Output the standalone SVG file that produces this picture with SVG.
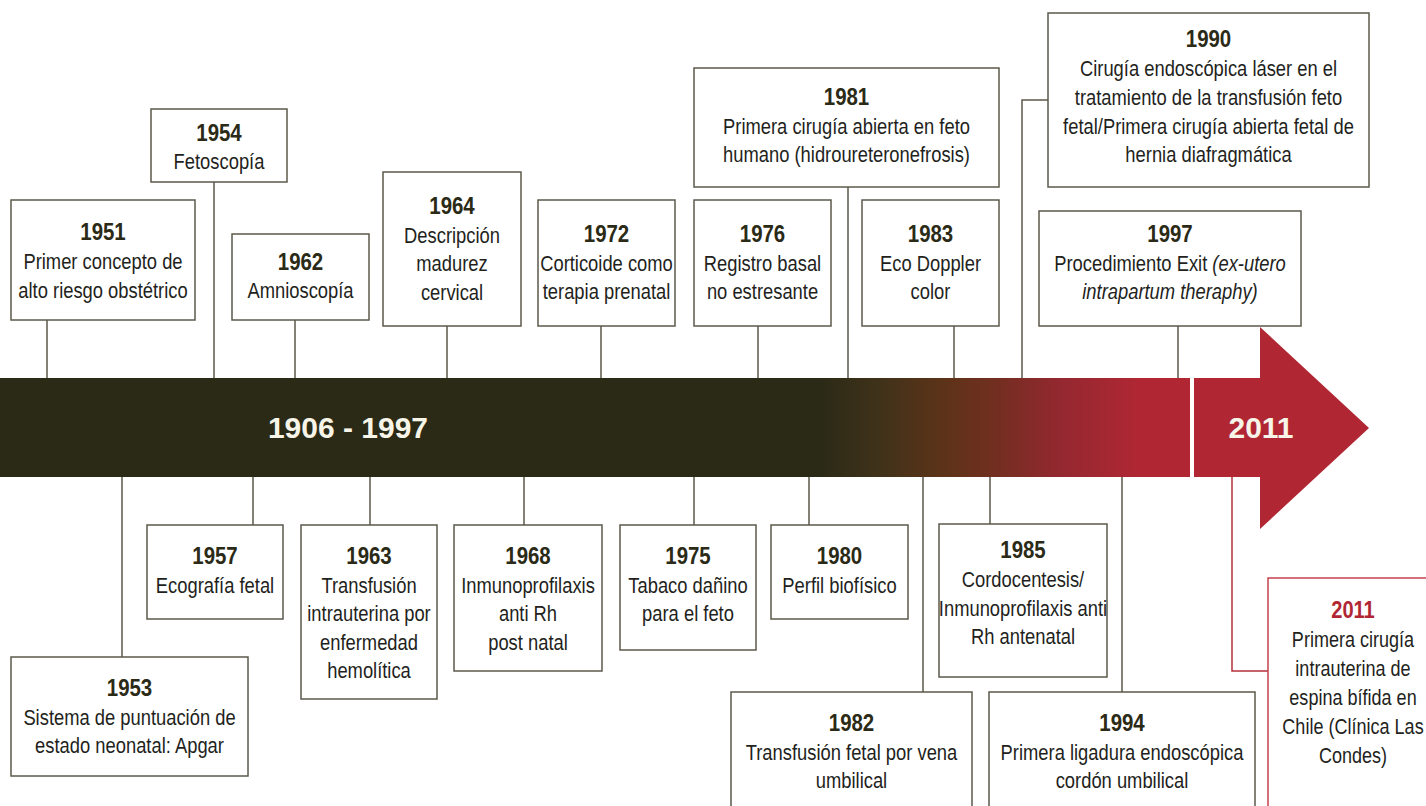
<svg xmlns="http://www.w3.org/2000/svg" width="1426" height="806" viewBox="0 0 1426 806">
<defs>
<style>
.box{fill:#fff;stroke:#5c5a4b;stroke-width:1.5}
.rbox{fill:#fff;stroke:#c5424d;stroke-width:1.5}
.con{fill:none;stroke:#5c5a4b;stroke-width:1.5}
.rcon{fill:none;stroke:#b5303b;stroke-width:1.5}
.yr{font-family:"Liberation Sans",Arial,sans-serif;font-weight:bold;font-size:24.5px;fill:#2b2a16;text-anchor:middle}
.tx{font-family:"Liberation Sans",Arial,sans-serif;font-size:22px;fill:#231f1c;text-anchor:middle}
.ry{fill:#b02733}
.it{font-style:italic}
.band{font-family:"Liberation Sans",Arial,sans-serif;font-weight:bold;font-size:30px;fill:#f7f4e8;text-anchor:middle}
</style>
<linearGradient id="g" gradientUnits="userSpaceOnUse" x1="0" y1="0" x2="1190" y2="0">
<stop offset="0" stop-color="#2b2a16"/>
<stop offset="0.689" stop-color="#2b2a16"/>
<stop offset="0.74" stop-color="#40321a"/>
<stop offset="0.794" stop-color="#5d3318"/>
<stop offset="0.84" stop-color="#742e21"/>
<stop offset="0.89" stop-color="#932830"/>
<stop offset="0.958" stop-color="#b02733"/>
<stop offset="1" stop-color="#b02733"/>
</linearGradient>
</defs>
<rect width="1426" height="806" fill="#fff"/>

<g id="timeline">
<rect x="0" y="378" width="1190" height="99" fill="url(#g)"/>
<polygon points="1194,378 1260,378 1260,327 1369,428 1260,529 1260,477 1194,477" fill="#b02733"/>
<text class="band" x="348" y="438">1906 - 1997</text>
<text class="band" x="1261" y="438" font-size="29">2011</text>
</g>

<g id="connectors">
<path class="con" d="M47,320V378M214,182V378M295,320V378M447,326V378M601,326V378M758,326V378M848,187V378M954,326V378M1048,100H1022V378M1178,326V378"/>
<path class="con" d="M122,477V657M253,477V525M370,477V525M524,477V525M694,477V525M809,477V525M923,477V692M990,477V524M1122,477V692"/>
<path class="rcon" d="M1232,477V671H1268"/>
</g>

<g id="n1951"><rect class="box" x="11" y="200" width="184" height="120"/>
<g transform="translate(103 0) scale(0.835 1)">
<text class="yr" y="240">1951</text>
<text class="tx" y="269">Primer concepto de</text>
<text class="tx" y="298">alto riesgo obstétrico</text></g></g>

<g id="n1954"><rect class="box" x="151" y="109" width="136" height="73"/>
<g transform="translate(219 0) scale(0.835 1)">
<text class="yr" y="141">1954</text>
<text class="tx" y="169">Fetoscopía</text></g></g>

<g id="n1962"><rect class="box" x="232" y="234" width="137" height="86"/>
<g transform="translate(300.5 0) scale(0.835 1)">
<text class="yr" y="270">1962</text>
<text class="tx" y="298">Amnioscopía</text></g></g>

<g id="n1964"><rect class="box" x="383" y="172" width="138" height="154"/>
<g transform="translate(452 0) scale(0.835 1)">
<text class="yr" y="214">1964</text>
<text class="tx" y="243">Descripción</text>
<text class="tx" y="271">madurez</text>
<text class="tx" y="300">cervical</text></g></g>

<g id="n1972"><rect class="box" x="538" y="200" width="137" height="126"/>
<g transform="translate(606.5 0) scale(0.835 1)">
<text class="yr" y="242">1972</text>
<text class="tx" y="271">Corticoide como</text>
<text class="tx" y="299">terapia prenatal</text></g></g>

<g id="n1976"><rect class="box" x="694" y="200" width="137" height="126"/>
<g transform="translate(762.5 0) scale(0.835 1)">
<text class="yr" y="242">1976</text>
<text class="tx" y="271">Registro basal</text>
<text class="tx" y="299">no estresante</text></g></g>

<g id="n1981"><rect class="box" x="694" y="68" width="305" height="119"/>
<g transform="translate(846.5 0) scale(0.835 1)">
<text class="yr" y="105">1981</text>
<text class="tx" y="134">Primera cirugía abierta en feto</text>
<text class="tx" y="162">humano (hidroureteronefrosis)</text></g></g>

<g id="n1983"><rect class="box" x="862" y="200" width="137" height="126"/>
<g transform="translate(930.5 0) scale(0.835 1)">
<text class="yr" y="242">1983</text>
<text class="tx" y="271">Eco Doppler</text>
<text class="tx" y="299">color</text></g></g>

<g id="n1990"><rect class="box" x="1048" y="13" width="321" height="174"/>
<g transform="translate(1208.5 0) scale(0.835 1)">
<text class="yr" y="47">1990</text>
<text class="tx" y="76">Cirugía endoscópica láser en el</text>
<text class="tx" y="105">tratamiento de la transfusión feto</text>
<text class="tx" y="134">fetal/Primera cirugía abierta fetal de</text>
<text class="tx" y="162">hernia diafragmática</text></g></g>

<g id="n1997"><rect class="box" x="1039" y="211" width="262" height="115"/>
<g transform="translate(1170 0) scale(0.835 1)">
<text class="yr" y="242">1997</text>
<text class="tx" y="271">Procedimiento Exit <tspan class="it">(ex-utero</tspan></text>
<text class="tx it" y="299">intrapartum theraphy)</text></g></g>

<g id="n1953"><rect class="box" x="11" y="657" width="237" height="119"/>
<g transform="translate(129.5 0) scale(0.835 1)">
<text class="yr" y="696">1953</text>
<text class="tx" y="725">Sistema de puntuación de</text>
<text class="tx" y="753">estado neonatal: Apgar</text></g></g>

<g id="n1957"><rect class="box" x="147" y="525" width="136" height="94"/>
<g transform="translate(215 0) scale(0.835 1)">
<text class="yr" y="564">1957</text>
<text class="tx" y="593">Ecografía fetal</text></g></g>

<g id="n1963"><rect class="box" x="301" y="525" width="136" height="174"/>
<g transform="translate(369 0) scale(0.835 1)">
<text class="yr" y="564">1963</text>
<text class="tx" y="593">Transfusión</text>
<text class="tx" y="621">intrauterina por</text>
<text class="tx" y="650">enfermedad</text>
<text class="tx" y="678">hemolítica</text></g></g>

<g id="n1968"><rect class="box" x="454" y="525" width="148" height="146"/>
<g transform="translate(528 0) scale(0.835 1)">
<text class="yr" y="564">1968</text>
<text class="tx" y="593">Inmunoprofilaxis</text>
<text class="tx" y="621">anti Rh</text>
<text class="tx" y="650">post natal</text></g></g>

<g id="n1975"><rect class="box" x="620" y="525" width="136" height="125"/>
<g transform="translate(688 0) scale(0.835 1)">
<text class="yr" y="564">1975</text>
<text class="tx" y="593">Tabaco dañino</text>
<text class="tx" y="621">para el feto</text></g></g>

<g id="n1980"><rect class="box" x="771" y="525" width="137" height="94"/>
<g transform="translate(839.5 0) scale(0.835 1)">
<text class="yr" y="564">1980</text>
<text class="tx" y="593">Perfil biofísico</text></g></g>

<g id="n1982"><rect class="box" x="731" y="692" width="241" height="130"/>
<g transform="translate(851.5 0) scale(0.835 1)">
<text class="yr" y="731">1982</text>
<text class="tx" y="760">Transfusión fetal por vena</text>
<text class="tx" y="788">umbilical</text></g></g>

<g id="n1985"><rect class="box" x="939" y="524" width="168" height="153"/>
<g transform="translate(1023 0) scale(0.835 1)">
<text class="yr" y="558">1985</text>
<text class="tx" y="587">Cordocentesis/</text>
<text class="tx" y="616">Inmunoprofilaxis anti</text>
<text class="tx" y="644">Rh antenatal</text></g></g>

<g id="n1994"><rect class="box" x="989" y="692" width="266" height="130"/>
<g transform="translate(1122 0) scale(0.835 1)">
<text class="yr" y="731">1994</text>
<text class="tx" y="760">Primera ligadura endoscópica</text>
<text class="tx" y="788">cordón umbilical</text></g></g>

<g id="n2011"><rect class="rbox" x="1268" y="578" width="180" height="250"/>
<g transform="translate(1353 0) scale(0.82 1)">
<text class="yr ry" y="618">2011</text>
<text class="tx" y="647">Primera cirugía</text>
<text class="tx" y="676">intrauterina de</text>
<text class="tx" y="705">espina bífida en</text>
<text class="tx" y="734">Chile (Clínica Las</text>
<text class="tx" y="763">Condes)</text></g></g>
</svg>
